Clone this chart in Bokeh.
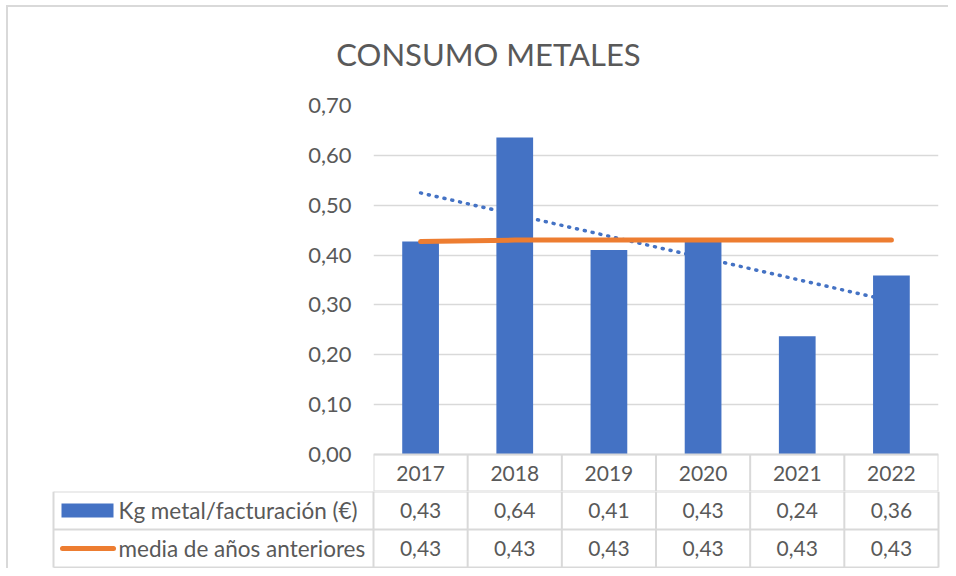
import numpy as np
from bokeh.plotting import figure
from bokeh.models import Range1d, FixedTicker, CustomJSTickFormatter
from bokeh.layouts import column
from bokeh.embed import file_html
from bokeh.resources import INLINE
from bokeh.core.properties import value

# ---------------- data ----------------
TITLE = "CONSUMO METALES"
YEARS = ["2017", "2018", "2019", "2020", "2021", "2022"]
KG_METAL = [0.427, 0.636, 0.410, 0.428, 0.237, 0.359]
MEDIA = [0.427, 0.430, 0.430, 0.430, 0.430, 0.430]
Y_TICKS = [0.0, 0.1, 0.2, 0.3, 0.4, 0.5, 0.6, 0.7]
SERIES_NAMES = ["Kg metal/facturación (€)", "media de años anteriores"]

# ---------------- style / geometry (page pixels) ----------------
FONT = "Lato"
TXT = "#595959"
BLUE = "#4472C4"
ORANGE = "#ED7D31"
GRIDC = "#D9D9D9"
FS_NUM = "21px"
FS_LAB = "22.5px"

OX, OY = 8, 7                 # canvas origin on the page
W = 940
PL, PR = 373, 938             # plot area left / right
PT, P0 = 105, 454             # y=0.70 / y=0 positions
TITLE_B = 90                  # bottom of the title strip
HDR_B = 491                   # bottom of header row
ROW_B = [529, 567]            # bottoms of the two data rows
TAB_L = 53                    # left edge of the table label column

n = len(YEARS)
COLW = (PR - PL) / n
YPX = (P0 - PT) / Y_TICKS[-1]      # pixels per unit
Y_LOW = -(HDR_B - P0) / YPX

def fmt(v):
    return f"{v:.2f}".replace(".", ",")

def ux(page_x):
    return (page_x - PL) / COLW

# ---------------- title strip ----------------
TH = TITLE_B - OY
tfig = figure(width=W, height=TH, x_range=Range1d(ux(OX), ux(OX + W)), y_range=Range1d(TH, 0),
              x_axis_type=None, y_axis_type=None, min_border=0,
              toolbar_location=None, output_backend="svg", frame_align=False)
tfig.outline_line_color = None
tfig.text(x=[ux(488)], y=[53 - OY], text=[TITLE], text_align="center", text_baseline="middle",
          text_font=value(FONT), text_font_size="31px", text_color=TXT)

# ---------------- chart ----------------
top = figure(width=W, height=HDR_B - TITLE_B,
             x_range=Range1d(0, n), y_range=Range1d(Y_LOW, Y_TICKS[-1]),
             x_axis_type=None,
             min_border_left=PL - OX, min_border_right=W - (PR - OX),
             min_border_top=PT - TITLE_B, min_border_bottom=0,
             toolbar_location=None, output_backend="svg", frame_align=False)
top.outline_line_color = None

ax = top.yaxis[0]
ax.ticker = FixedTicker(ticks=Y_TICKS)
ax.formatter = CustomJSTickFormatter(code="return tick.toFixed(2).replace('.', ',');")
ax.axis_line_color = None
ax.major_tick_line_color = None
ax.minor_tick_line_color = None
ax.major_tick_out = 0
ax.major_tick_in = 0
ax.minor_tick_out = 0
ax.minor_tick_in = 0
ax.major_label_standoff = 22
ax.major_label_text_font = FONT
ax.major_label_text_font_size = "22px"
ax.major_label_text_color = TXT

top.ygrid.ticker = FixedTicker(ticks=Y_TICKS)
top.ygrid.grid_line_color = GRIDC
top.ygrid.grid_line_width = 1.5
top.xgrid.grid_line_color = None

xc = [i + 0.5 for i in range(n)]
idx = np.arange(n)
slope, intercept = np.polyfit(idx, KG_METAL, 1)
trend = intercept + slope * idx

top.line(xc, trend, line_color=BLUE, line_width=3.5, line_dash="1 7", line_cap="round")
top.vbar(x=xc, top=KG_METAL, width=0.39, fill_color=BLUE, line_color=None)
top.line(xc, MEDIA, line_color=ORANGE, line_width=5, line_cap="round")

# header row of the data table (years)
top.segment(x0=[0, 0] + list(range(n + 1)), y0=[0, Y_LOW] + [0] * (n + 1),
            x1=[n, n] + list(range(n + 1)), y1=[0, Y_LOW] + [Y_LOW] * (n + 1),
            line_color=GRIDC, line_width=2)
top.text(x=xc, y=[Y_LOW / 2] * n, text=YEARS, text_align="center", text_baseline="middle",
         text_font=value(FONT), text_font_size=FS_NUM, text_color=TXT)

# ---------------- data rows ----------------
ROWH = (ROW_B[1] - HDR_B) / 2
BOT_H = ROW_B[1] + 1 - HDR_B
bot = figure(width=W, height=BOT_H,
             x_range=Range1d(ux(OX), ux(OX + W)),
             y_range=Range1d(BOT_H / ROWH, 0),
             x_axis_type=None, y_axis_type=None, min_border=0,
             toolbar_location=None, output_backend="svg", frame_align=False)
bot.outline_line_color = None

LX = ux(TAB_L)
x0 = [LX] * 3 + list(range(n + 1)) + [LX]
y0 = [0, 1, 2] + [0] * (n + 1) + [0]
x1 = [n] * 3 + list(range(n + 1)) + [LX]
y1 = [0, 1, 2] + [2] * (n + 1) + [2]
bot.segment(x0=x0, y0=y0, x1=x1, y1=y1, line_color=GRIDC, line_width=2)

common = dict(text_align="center", text_baseline="middle", text_font=value(FONT),
              text_font_size=FS_NUM, text_color=TXT)
bot.text(x=xc, y=[0.5] * n, text=[fmt(v) for v in KG_METAL], **common)
bot.text(x=xc, y=[1.5] * n, text=[fmt(v) for v in MEDIA], **common)

TX = ux(118)
bot.text(x=[TX, TX], y=[0.5, 1.5], text=SERIES_NAMES, text_align="left", text_baseline="middle",
         text_font=value(FONT), text_font_size=FS_LAB, text_color=TXT)

bot.rect(x=[ux(87)], y=[0.5], width=52, height=14,
         width_units="screen", height_units="screen", fill_color=BLUE, line_color=None)
bot.segment(x0=[ux(62)], y0=[1.5], x1=[ux(113)], y1=[1.5],
            line_color=ORANGE, line_width=5, line_cap="round")

layout = column(tfig, top, bot, styles={"margin-left": f"{OX - 2}px", "margin-top": f"{OY - 2}px",
                                        "border-left": "2px solid #D9D9D9",
                                        "border-top": "2px solid #D9D9D9"})

open("out.html", "w").write(file_html(layout, INLINE))
